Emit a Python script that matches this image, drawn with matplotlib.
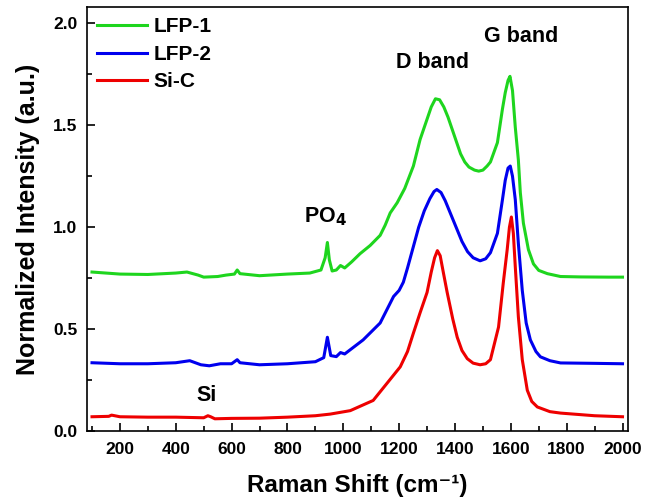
import numpy as np
import matplotlib.pyplot as plt

plt.rcParams['font.family'] = ['Liberation Sans', 'DejaVu Sans']
plt.rcParams['font.weight'] = 'bold'
plt.rcParams['mathtext.default'] = 'bf'

# Raman shift (cm-1) and normalized intensity
x_lfp1 = [100, 150, 200, 300, 400, 440, 480, 500, 550, 580, 610, 620, 630, 700, 800, 880, 920,
          935, 943, 950, 960, 975, 990, 1005, 1030, 1060, 1096, 1132, 1150, 1168, 1193, 1220,
          1251, 1275, 1300, 1315, 1330, 1345, 1360, 1375, 1390, 1405, 1420, 1435, 1450, 1470,
          1485, 1500, 1515, 1527, 1552, 1570, 1580, 1590, 1597, 1606, 1616, 1627, 1634, 1645,
          1663, 1681, 1700, 1731, 1778, 1850, 1950, 2000]
y_lfp1 = [0.78, 0.775, 0.77, 0.768, 0.775, 0.78, 0.765, 0.755, 0.758, 0.765, 0.77, 0.79, 0.772,
          0.762, 0.77, 0.775, 0.79, 0.85, 0.925, 0.84, 0.785, 0.79, 0.812, 0.80, 0.83, 0.87,
          0.91, 0.96, 1.01, 1.07, 1.12, 1.19, 1.30, 1.43, 1.53, 1.59, 1.63, 1.625, 1.59, 1.54,
          1.48, 1.42, 1.36, 1.32, 1.295, 1.28, 1.275, 1.28, 1.30, 1.32, 1.415, 1.58, 1.66, 1.72,
          1.74, 1.67, 1.49, 1.33, 1.17, 1.02, 0.89, 0.82, 0.788, 0.772, 0.758, 0.756, 0.755,
          0.755]

x_lfp2 = [100, 200, 300, 400, 450, 490, 520, 560, 600, 620, 630, 700, 800, 900, 930, 943, 955,
          975, 990, 1005, 1071, 1132, 1180, 1200, 1215, 1230, 1250, 1270, 1290, 1310, 1325,
          1335, 1350, 1365, 1380, 1395, 1410, 1425, 1445, 1465, 1490, 1510, 1527, 1552, 1570,
          1580, 1590, 1598, 1606, 1616, 1627, 1641, 1655, 1670, 1690, 1706, 1740, 1778, 1900,
          2000]
y_lfp2 = [0.335, 0.33, 0.33, 0.335, 0.345, 0.325, 0.32, 0.33, 0.33, 0.35, 0.335, 0.325, 0.33,
          0.34, 0.36, 0.46, 0.37, 0.365, 0.385, 0.378, 0.447, 0.53, 0.66, 0.69, 0.73, 0.80,
          0.90, 1.0, 1.08, 1.14, 1.175, 1.185, 1.17, 1.13, 1.08, 1.03, 0.98, 0.93, 0.88, 0.85,
          0.835, 0.845, 0.875, 0.97, 1.135, 1.23, 1.29, 1.30, 1.25, 1.135, 0.92, 0.69, 0.53,
          0.447, 0.39, 0.364, 0.345, 0.334, 0.332, 0.33]

x_sic = [100, 160, 170, 200, 300, 400, 500, 515, 525, 540, 600, 700, 800, 900, 953, 1025,
         1107, 1157, 1204, 1230, 1251, 1275, 1300, 1315, 1327, 1337, 1347, 1358, 1372, 1392,
         1408, 1425, 1444, 1465, 1490, 1510, 1527, 1556, 1573, 1587, 1595, 1602, 1609, 1616,
         1627, 1641, 1659, 1675, 1695, 1740, 1778, 1900, 2000]
y_sic = [0.07, 0.072, 0.078, 0.07, 0.068, 0.068, 0.065, 0.075, 0.07, 0.06, 0.062, 0.063, 0.068,
         0.075, 0.083, 0.10, 0.15, 0.235, 0.315, 0.39, 0.48, 0.58, 0.68, 0.78, 0.85, 0.885,
         0.86, 0.78, 0.68, 0.55, 0.46, 0.395, 0.355, 0.333, 0.325, 0.33, 0.35, 0.51, 0.727,
         0.89, 1.0, 1.05, 0.97, 0.806, 0.56, 0.35, 0.2, 0.145, 0.118, 0.095, 0.088, 0.075,
         0.07]

fig = plt.figure(figsize=(6.57, 5.04), dpi=100)
ax = fig.add_axes([0.1324, 0.1448, 0.8236, 0.8412])

ax.plot(x_lfp1, y_lfp1, color='#1ed51e', lw=2.2, label='LFP-1')
ax.plot(x_lfp2, y_lfp2, color='#0000ee', lw=2.2, label='LFP-2')
ax.plot(x_sic, y_sic, color='#ee0000', lw=2.2, label='Si-C')

ax.set_xlim(82, 2020)
ax.set_ylim(0, 2.08)
ax.set_xticks(np.arange(200, 2001, 200))
ax.set_xticks(np.arange(100, 2001, 100), minor=True)
ax.set_yticks([0.0, 0.5, 1.0, 1.5, 2.0])
ax.set_yticks([0.25, 0.75, 1.25, 1.75], minor=True)
ax.tick_params(direction='in', labelsize=12.5, width=1.2, length=6)
ax.tick_params(which='minor', direction='in', width=1.2, length=3.5)
ax.tick_params(axis='x', pad=8)
ax.tick_params(axis='y', pad=7)
for s in ax.spines.values():
    s.set_linewidth(1.2)

ax.set_xlabel('Raman Shift (cm⁻¹)', fontsize=17.5, fontweight='bold', labelpad=12)
ax.set_ylabel('Normalized Intensity (a.u.)', fontsize=18, fontweight='bold', labelpad=9)

ax.text(935, 1.05, 'PO$_{\\mathbf{4}}$', fontsize=15.5, ha='center', va='center')
ax.text(1318, 1.81, 'D band', fontsize=15.5, ha='center', va='center')
ax.text(1638, 1.935, 'G band', fontsize=15.5, ha='center', va='center')
ax.text(512, 0.172, 'Si', fontsize=15.5, ha='center', va='center')

ax.legend(loc='upper left', frameon=False, fontsize=15, handlelength=2.4,
          handletextpad=0.3, labelspacing=0.4, borderaxespad=0.1,
          bbox_to_anchor=(0.0, 1.0))

fig.savefig('out.png', dpi=100)
